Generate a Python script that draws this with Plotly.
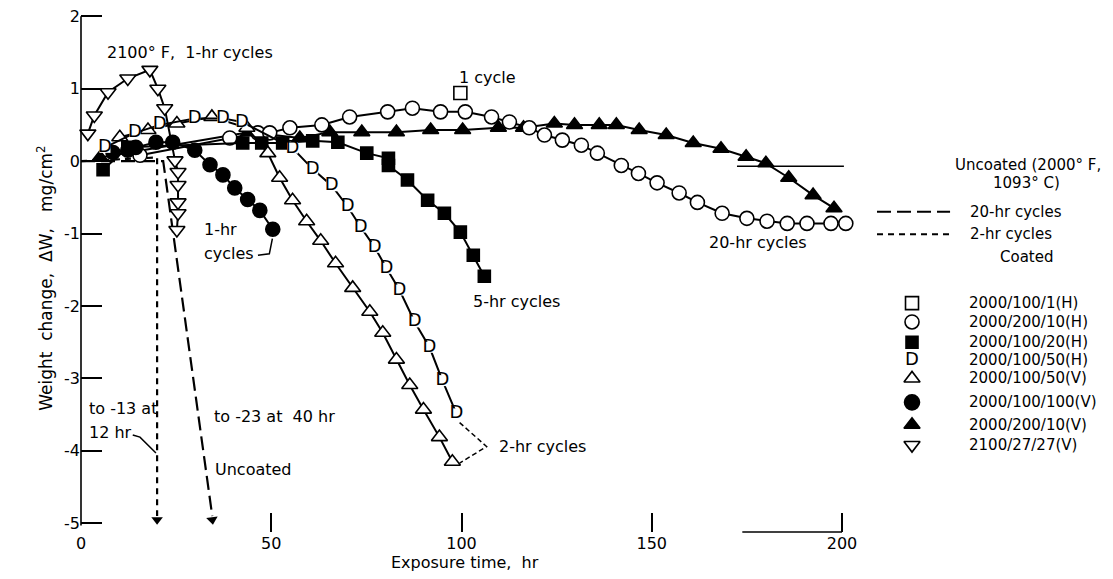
import plotly.graph_objects as go

# ---------------- data ----------------
# 2000/100/1(H)  open square (1 cycle)
sq_open_x = [99.7]
sq_open_y = [0.94]

# 2000/200/10(H) open circles
circ_open_x = [15.5, 39.1, 46.5, 49.6, 54.9, 63.3, 70.6, 80.6, 87.1, 94.5, 101.0, 107.9, 112.6,
               117.8, 121.8, 126.5, 131.5, 135.7, 142.0, 146.5, 151.4, 157.2, 162.0, 168.5,
               175.0, 180.3, 185.6, 190.8, 197.1, 201.0]
circ_open_y = [0.08, 0.32, 0.39, 0.39, 0.46, 0.50, 0.61, 0.68, 0.73, 0.68, 0.68, 0.61, 0.54,
               0.46, 0.36, 0.29, 0.22, 0.11, -0.06, -0.17, -0.30, -0.44, -0.57, -0.72,
               -0.79, -0.83, -0.86, -0.86, -0.86, -0.86]

# 2000/100/20(H) filled squares
sq_fill_x = [5.8, 12.3, 42.5, 47.5, 53.0, 60.9, 67.5, 75.1, 80.8, 80.8, 85.8, 91.1, 95.5, 99.7, 103.1, 106.0]
sq_fill_y = [-0.12, 0.19, 0.25, 0.25, 0.25, 0.28, 0.26, 0.11, 0.04, -0.06, -0.26, -0.54, -0.72, -0.98, -1.30, -1.59]

# 2000/100/50(H) "D" symbols
d_x = [6.3, 14.2, 20.7, 29.9, 37.3, 42.3, 55.6, 60.9, 65.9, 70.1, 73.5, 77.2, 80.3, 83.7, 87.7, 91.6, 95.0, 98.7]
d_y = [0.19, 0.39, 0.50, 0.59, 0.59, 0.54, 0.18, -0.11, -0.34, -0.63, -0.91, -1.19, -1.48, -1.78, -2.22, -2.57, -3.03, -3.49]

# 2000/100/50(V) open triangles
tri_open_x = [10.2, 17.6, 25.2, 34.4, 43.6, 49.1, 52.2, 55.6, 59.3, 63.0, 66.9, 71.4, 75.9, 79.3, 82.9, 86.4, 90.0, 94.2, 97.6]
tri_open_y = [0.33, 0.43, 0.52, 0.61, 0.46, 0.11, -0.23, -0.54, -0.83, -1.10, -1.41, -1.75, -2.08, -2.37, -2.74, -3.09, -3.43, -3.81, -4.15]

# 2000/100/100(V) filled circles
circ_fill_x = [8.4, 12.3, 14.4, 19.7, 24.1, 29.9, 33.9, 37.3, 40.4, 43.8, 47.0, 50.4]
circ_fill_y = [0.12, 0.15, 0.19, 0.26, 0.26, 0.15, -0.05, -0.19, -0.37, -0.53, -0.68, -0.94]

# 2000/200/10(V) filled triangles
tri_fill_x = [5.0, 44.0, 57.5, 65.4, 73.8, 82.9, 91.9, 100.3, 109.7, 116.3, 124.4, 129.7, 136.2, 140.7,
              146.7, 153.8, 160.9, 168.2, 174.8, 180.0, 186.0, 192.4, 197.9]
tri_fill_y = [0.05, 0.40, 0.32, 0.40, 0.40, 0.40, 0.43, 0.43, 0.46, 0.46, 0.52, 0.50, 0.50, 0.50,
              0.43, 0.36, 0.25, 0.17, 0.06, -0.03, -0.23, -0.47, -0.65]

# 2100/27/27(V) open inverted triangles
tri_down_x = [1.8, 3.5, 7.1, 12.3, 18.1, 20.2, 22.0, 24.7, 25.5, 25.5, 25.5, 25.5, 25.2]
tri_down_y = [0.38, 0.63, 0.95, 1.14, 1.26, 1.00, 0.73, 0.01, -0.15, -0.33, -0.57, -0.72, -0.95]

# Uncoated curves
unc2_x = [0, 20.0, 20.0]          # 2-hr cycles (short dash)
unc2_y = [0, 0.05, -4.9]
unc20_x = [0, 21.6, 34.5]         # long dash
unc20_y = [0, 0.0, -4.9]

x_ticks = [0, 50, 100, 150, 200]
y_ticks = [-5, -4, -3, -2, -1, 0, 1, 2]
y_tick_text = ["-5", "-4", "-3", "-2", "-1", "0", "1", "2"]

legend_labels = ["2000/100/1(H)", "2000/200/10(H)", "2000/100/20(H)", "2000/100/50(H)",
                 "2000/100/50(V)", "2000/100/100(V)", "2000/200/10(V)", "2100/27/27(V)"]
legend_rows_y = [-1.96, -2.22, -2.50, -2.75, -3.00, -3.33, -3.64, -3.92]

# ---------------- figure ----------------
FONT = "DejaVu Sans, Liberation Sans, sans-serif"
XMAX = 1032 / 3.805
YMIN, YMAX = -5.12, 2.10

fig = go.Figure()

def series(x, y, symbol, fill, size, mode="lines+markers"):
    fig.add_trace(go.Scatter(
        x=x, y=y, mode=mode, cliponaxis=False, showlegend=False, hoverinfo="skip",
        line=dict(color="black", width=2),
        marker=dict(symbol=symbol, size=size, color=fill, line=dict(color="black", width=1.6))))

# uncoated dashed lines
fig.add_trace(go.Scatter(x=unc2_x, y=unc2_y, mode="lines", showlegend=False,
                         line=dict(color="black", width=2.2, dash="6px,5px")))
fig.add_trace(go.Scatter(x=unc20_x, y=unc20_y, mode="lines", showlegend=False,
                         line=dict(color="black", width=2.2, dash="14px,6px")))
# arrowheads at the ends of the uncoated lines
fig.add_trace(go.Scatter(x=[unc2_x[-1], unc20_x[-1]], y=[-4.95, -4.95], mode="markers", showlegend=False,
                         cliponaxis=False,
                         marker=dict(symbol="triangle-down", size=10, color="black", angle=[0, -8],
                                     line=dict(width=0))))

series(tri_fill_x, tri_fill_y, "triangle-up", "black", 14)
series(circ_open_x, circ_open_y, "circle", "white", 14)
series(sq_fill_x, sq_fill_y, "square", "black", 12)
series(tri_open_x, tri_open_y, "triangle-up", "white", 14)
series(circ_fill_x, circ_fill_y, "circle", "black", 14)
series(tri_down_x, tri_down_y, "triangle-down", "white", 14)
series(sq_open_x, sq_open_y, "square", "white", 13, mode="markers")

# D symbols: white square knock-out + letter D
fig.add_trace(go.Scatter(
    x=d_x, y=d_y, mode="lines+markers+text", text=["D"] * len(d_x), textposition="middle center",
    textfont=dict(family=FONT, size=18, color="black"), cliponaxis=False, showlegend=False,
    line=dict(color="black", width=2), marker=dict(symbol="square", size=11, color="white")))

# legend markers (drawn through the same axes)
leg_x = 218.4
leg_sym = [("square", "white", 13), ("circle", "white", 14), ("square", "black", 12), None,
           ("triangle-up", "white", 14), ("circle", "black", 15), ("triangle-up", "black", 14),
           ("triangle-down", "white", 14)]
for (s, yy) in zip(leg_sym, legend_rows_y):
    if s is None:
        fig.add_trace(go.Scatter(x=[leg_x], y=[yy], mode="text", text=["D"], textposition="middle center",
                                 textfont=dict(family=FONT, size=18, color="black"), showlegend=False))
    else:
        fig.add_trace(go.Scatter(x=[leg_x], y=[yy], mode="markers", showlegend=False, cliponaxis=False,
                                 marker=dict(symbol=s[0], size=s[2], color=s[1],
                                             line=dict(color="black", width=1.6))))
# legend line samples
fig.add_trace(go.Scatter(x=[209.2, 228.4], y=[-0.70, -0.70], mode="lines", showlegend=False,
                         line=dict(color="black", width=2, dash="14px,6px")))
fig.add_trace(go.Scatter(x=[209.2, 228.4], y=[-1.01, -1.01], mode="lines", showlegend=False,
                         line=dict(color="black", width=2, dash="6px,5px")))

# leader lines
fig.add_trace(go.Scatter(x=[99.5, 106.6, 99.5], y=[-3.61, -3.94, -4.17], mode="lines", showlegend=False,
                         line=dict(color="black", width=1.5, dash="5px,3px")))
fig.add_trace(go.Scatter(x=[46.5, 49.5, 50.3], y=[-1.30, -1.28, -1.07], mode="lines", showlegend=False,
                         line=dict(color="black", width=1.5)))
fig.add_trace(go.Scatter(x=[13.6, 15.5, 19.7], y=[-3.78, -3.81, -4.03], mode="lines", showlegend=False,
                         line=dict(color="black", width=1.5)))
# short horizontal segment near right
fig.add_trace(go.Scatter(x=[172.4, 200.5], y=[-0.07, -0.07], mode="lines", showlegend=False,
                         line=dict(color="black", width=1.5)))

ann = []
def txt(x, y, s, anchor="left", size=16, xref="x", yref="y"):
    ann.append(dict(x=x, y=y, xref=xref, yref=yref, text=s, showarrow=False, xanchor=anchor,
                    yanchor="middle", font=dict(family=FONT, size=size, color="black")))

txt(6.3, 1.50, "2100° F,  1-hr cycles")
txt(98.7, 1.16, "1 cycle")
txt(164.6, -1.12, "20-hr cycles")
txt(102.6, -1.94, "5-hr cycles")
txt(109.4, -3.94, "2-hr cycles")
txt(31.8, -0.95, "1-hr")
txt(31.8, -1.27, "cycles")
txt(1.6, -3.41, "to -13 at")
txt(1.6, -3.74, "12 hr")
txt(34.4, -3.53, "to -23 at  40 hr")
txt(34.7, -4.26, "Uncoated")
# legend texts
txt(249.0, -0.055, "Uncoated (2000° F,", anchor="center", size=15)
txt(248.5, -0.30, "1093° C)", anchor="center", size=15)
txt(233.1, -0.70, "20-hr cycles", size=15)
txt(233.1, -1.01, "2-hr cycles", size=15)
txt(248.6, -1.33, "Coated", anchor="center", size=15)
for lab, yy in zip(legend_labels, legend_rows_y):
    txt(232.9, yy, lab, size=15)

# axis titles
txt(100.9, -0.059, "Exposure time,  hr", anchor="center", size=16, yref="paper")
ann.append(dict(x=-0.0349, y=0.486, xref="paper", yref="paper",
                text="Weight  change,  ΔW,   mg/cm<sup>2</sup>",
                textangle=-90, showarrow=False, xanchor="center", yanchor="middle",
                font=dict(family=FONT, size=17, color="black")))

def py(v):
    return (v - YMIN) / (YMAX - YMIN)

shapes = [
    dict(type="line", xref="paper", yref="paper", x0=0, x1=0, y0=py(-5.03), y1=py(2.0),
         line=dict(color="black", width=1.6)),
    dict(type="line", xref="paper", yref="paper", x0=173.8 / XMAX, x1=200.0 / XMAX, y0=0.0, y1=0.0,
         line=dict(color="black", width=1.6)),
]

fig.update_layout(
    width=1113, height=579, margin=dict(l=81, r=0, t=9, b=47),
    paper_bgcolor="white", plot_bgcolor="white",
    font=dict(family=FONT, size=15, color="black"),
    annotations=ann, shapes=shapes,
    xaxis=dict(range=[0, XMAX], tickvals=x_ticks, ticktext=[str(t) for t in x_ticks],
               ticks="inside", ticklen=19, tickwidth=1.5, tickcolor="black",
               showgrid=False, zeroline=False, showline=False,
               tickfont=dict(family=FONT, size=16, color="black")),
    yaxis=dict(range=[YMIN, YMAX], tickvals=y_ticks, ticktext=y_tick_text,
               ticks="inside", ticklen=21, tickwidth=1.5, tickcolor="black",
               showgrid=False, zeroline=False, showline=False,
               tickfont=dict(family=FONT, size=16, color="black")),
)

fig.write_html("out.html")
